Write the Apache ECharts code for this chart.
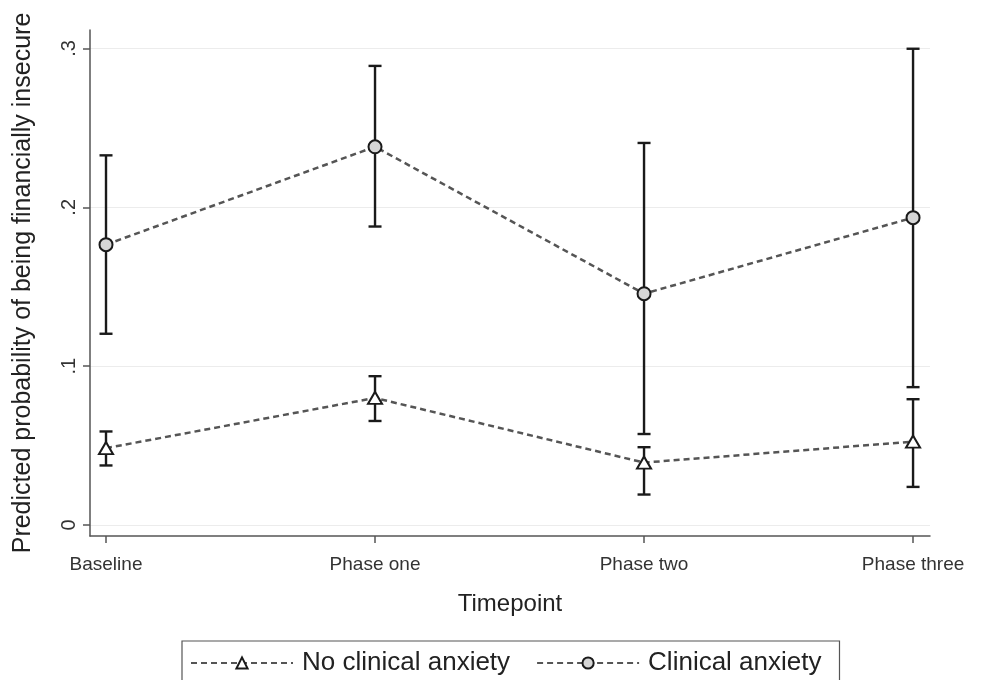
<!DOCTYPE html>
<html>
<head>
<meta charset="utf-8">
<script src="https://cdn.jsdelivr.net/npm/echarts@6/dist/echarts.min.js"></script>
<style>html,body{margin:0;padding:0;background:#fff;}#c{width:982px;height:680px;}</style>
</head>
<body>
<div id="c"></div>
<script>
const categories = ['Baseline', 'Phase one', 'Phase two', 'Phase three'];
const yTicks = [0, 0.1, 0.2, 0.3];
const noAnx   = [0.0484, 0.0800, 0.0393, 0.0525];
const noAnxLo = [0.0375, 0.0655, 0.0192, 0.0240];
const noAnxHi = [0.0589, 0.0937, 0.0490, 0.0792];
const anx     = [0.1765, 0.2381, 0.1456, 0.1935];
const anxLo   = [0.1204, 0.1879, 0.0573, 0.0868];
const anxHi   = [0.2327, 0.2890, 0.2405, 0.2998];

const xs = categories.map((c, i) => i + 1);
const pts = (arr) => arr.map((v, i) => [xs[i], v]);
const bars = (lo, hi) => lo.map((v, i) => [xs[i], v, hi[i]]);

function renderBar(params, api) {
  const x = api.value(0);
  const p1 = api.coord([x, api.value(1)]);
  const p2 = api.coord([x, api.value(2)]);
  const w = 6.5;
  const st = { stroke: '#1a1a1a', lineWidth: 2.4 };
  return {
    type: 'group',
    children: [
      { type: 'line', shape: { x1: p1[0], y1: p1[1], x2: p2[0], y2: p2[1] }, style: st },
      { type: 'line', shape: { x1: p1[0] - w, y1: p1[1], x2: p1[0] + w, y2: p1[1] }, style: st },
      { type: 'line', shape: { x1: p2[0] - w, y1: p2[1], x2: p2[0] + w, y2: p2[1] }, style: st }
    ]
  };
}

const chart = echarts.init(document.getElementById('c'));
const font = 'Liberation Sans, Arial, Helvetica, sans-serif';
chart.setOption({
  backgroundColor: '#fff',
  animation: false,
  textStyle: { fontFamily: font, color: '#222' },
  grid: { left: 90, right: 52, top: 30, bottom: 144 },
  legend: {
    data: ['No clinical anxiety', 'Clinical anxiety'],
    left: 182, top: 641,
    padding: [9, 18, 30, 8],
    borderColor: '#555', borderWidth: 1.2,
    itemWidth: 102, itemHeight: 14, itemGap: 26,
    textStyle: { fontSize: 26, color: '#222', fontFamily: font, padding: [0, 0, 0, 4] }
  },
  xAxis: {
    type: 'value', min: 0.9405, max: 4.063,
    name: 'Timepoint', nameLocation: 'middle', nameGap: 56,
    nameTextStyle: { fontSize: 24, color: '#222', fontFamily: font },
    axisLine: { show: true, onZero: false, lineStyle: { color: '#555', width: 1.5 } },
    axisTick: { show: true, length: 7, customValues: xs, lineStyle: { color: '#555', width: 1.5 } },
    axisLabel: { customValues: xs, margin: 19, fontSize: 19, color: '#333',
      formatter: (v) => categories[Math.round(v) - 1] || '' },
    splitLine: { show: false }
  },
  yAxis: {
    type: 'value', min: -0.0069, max: 0.3116,
    name: 'Predicted probability of being financially insecure',
    nameLocation: 'middle', nameGap: 54,
    nameTextStyle: { fontSize: 25, color: '#222', fontFamily: font },
    axisLine: { show: true, onZero: false, lineStyle: { color: '#555', width: 1.5 } },
    axisTick: { show: true, length: 7, customValues: yTicks, lineStyle: { color: '#555', width: 1.5 } },
    axisLabel: { customValues: yTicks, rotate: 90, margin: 11, fontSize: 20, color: '#333',
      formatter: (v) => v === 0 ? '0' : String(Math.round(v * 10) / 10).replace('0.', '.') },
    splitLine: { show: true, lineStyle: { color: '#ececec', width: 1.2 } }
  },
  series: [
    { type: 'custom', renderItem: renderBar, data: bars(noAnxLo, noAnxHi), z: 1, silent: true },
    { type: 'custom', renderItem: renderBar, data: bars(anxLo, anxHi), z: 1, silent: true },
    {
      name: 'No clinical anxiety', type: 'line', data: pts(noAnx), z: 3,
      symbol: 'triangle', symbolSize: [14, 12],
      lineStyle: { color: '#555', width: 2.5, type: [6, 4] },
      itemStyle: { color: '#fff', borderColor: '#1a1a1a', borderWidth: 2 }
    },
    {
      name: 'Clinical anxiety', type: 'line', data: pts(anx), z: 3,
      symbol: 'circle', symbolSize: 13,
      lineStyle: { color: '#555', width: 2.5, type: [6, 4] },
      itemStyle: { color: '#d6d6d6', borderColor: '#1a1a1a', borderWidth: 2 }
    }
  ]
});
</script>
</body>
</html>
